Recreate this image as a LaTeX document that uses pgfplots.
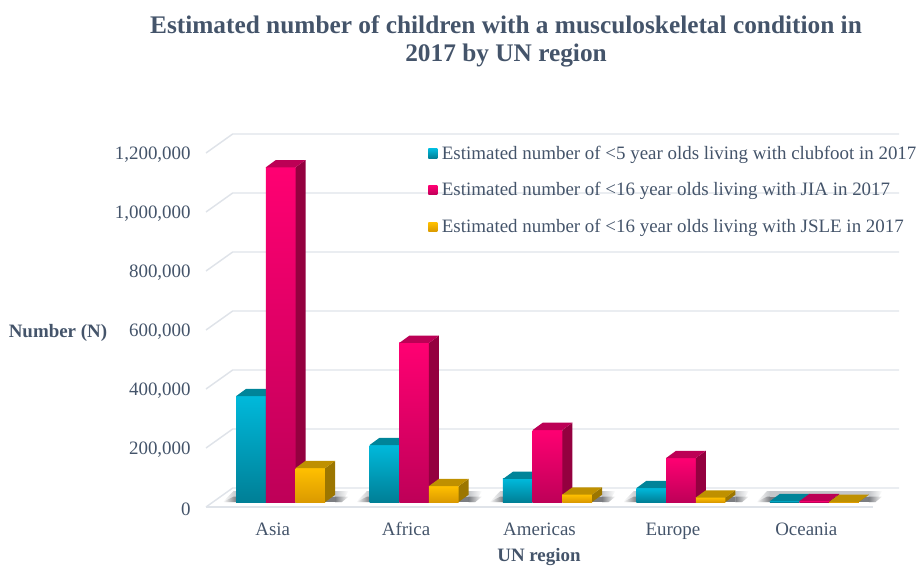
\documentclass[border=0pt]{standalone}
\usepackage{fontspec}
\setmainfont{Liberation Serif}
\usepackage{pgfplots}
\pgfplotsset{compat=1.18}

\definecolor{slate}{HTML}{44546A}
\definecolor{gridc}{HTML}{DFE3E9}

% one reference pixel is 0.75pt
\definecolor{clubA}{HTML}{00B9DB}
\definecolor{clubB}{HTML}{007F96}
\definecolor{clubT}{HTML}{008499}
\definecolor{clubS}{HTML}{006A7C}
\definecolor{jiaA}{HTML}{FF0072}
\definecolor{jiaB}{HTML}{BE0058}
\definecolor{jiaT}{HTML}{BC0055}
\definecolor{jiaS}{HTML}{94003F}
\definecolor{jsleA}{HTML}{FFC000}
\definecolor{jsleB}{HTML}{DB9A00}
\definecolor{jsleT}{HTML}{BF9000}
\definecolor{jsleS}{HTML}{9C7600}
\definecolor{shadL}{HTML}{C4C6C9}
\definecolor{shadD}{HTML}{7C7E82}

% #1 category, #2 slot (0,1,2), #3 value, #4 colour prefix
\newcommand{\tdbar}[4]{%
  \pgfmathsetmacro{\xa}{#1-0.3339+#2*0.2226}%
  \pgfmathsetmacro{\xb}{\xa+0.2226}%
  \pgfmathsetmacro{\xc}{\xa+0.075}%
  \pgfmathsetmacro{\xd}{\xb+0.075}%
  \edef\yt{\the\numexpr#3+24700\relax}%
  \addplot[forget plot,draw=none,shift={(6pt,3.75pt)},top color=#4A,bottom color=#4B]
    coordinates {(\xa,0) (\xb,0) (\xb,#3) (\xa,#3)} --cycle;
  \addplot[forget plot,draw=none,shift={(6pt,3.75pt)},fill=#4S]
    coordinates {(\xb,0) (\xd,24700) (\xd,\yt) (\xb,#3)} --cycle;
  \addplot[forget plot,draw=none,shift={(6pt,3.75pt)},fill=#4T]
    coordinates {(\xa,#3) (\xb,#3) (\xd,\yt) (\xc,\yt)} --cycle;
}
% soft shadow on the floor under one group: #1 category, #2 height, #3 colour
\newcommand{\tdshadow}[3]{%
  \pgfmathsetmacro{\sa}{#1-0.3339-0.10}%
  \pgfmathsetmacro{\sb}{#1-0.3339}%
  \pgfmathsetmacro{\sc}{#1+0.3339+0.075}%
  \pgfmathsetmacro{\sd}{\sc+0.05}%
  \pgfmathsetmacro{\se}{\sc+0.10}%
  \pgfmathsetmacro{\sf}{\sa+0.08}%
  \addplot[forget plot,draw=none,shift={(6pt,3.75pt)},left color=white,right color=#3]
    coordinates {(\sa,0) (\sb,0) (\sb,#2) (\sf,#2)} --cycle;
  \addplot[forget plot,draw=none,shift={(6pt,3.75pt)},fill=#3]
    coordinates {(\sb,0) (\sc,0) (\sc,#2) (\sb,#2)} --cycle;
  \addplot[forget plot,draw=none,shift={(6pt,3.75pt)},left color=#3,right color=white]
    coordinates {(\sc,0) (\sd,0) (\se,#2) (\sc,#2)} --cycle;
}
% wall gridline: front point to back point, then along the back wall
\newcommand{\wall}[2]{%
  \addplot[forget plot,gridc,line width=1.1pt] coordinates {(-0.5,#1) (-0.3,#2) (4.695,#2)};
}

\begin{document}
\begin{tikzpicture}
  \useasboundingbox (-154.5pt,-43.5pt) rectangle (534.75pt,380.25pt);
  \begin{axis}[
    scale only axis,
    width=519.75pt,
    height=279.75pt,
    xmin=-0.5, xmax=4.695,
    ymin=0, ymax=1264407,
    clip=false,
    axis line style={draw=none},
    tick style={draw=none},
    xtick={0,1,2,3,4},
    xticklabels={Asia,Africa,Americas,Europe,Oceania},
    ytick={0,200000,400000,600000,800000,1000000,1200000},
    scaled y ticks=false,
    yticklabel style={/pgf/number format/fixed,/pgf/number format/1000 sep={,},/pgf/number format/assume math mode=true,yshift=-1.5pt},
    xticklabel style={text height=10pt,text depth=3pt},
    tick label style={font=\fontsize{14.2}{16}\selectfont,text=slate},
    yticklabel shift=8pt,
    xticklabel shift=8pt,
    title={Estimated number of children with a musculoskeletal condition in\\2017 by UN region},
    title style={at={(axis description cs:0.4329,1.228)},anchor=center,align=center,
      font=\fontsize{19}{21}\selectfont\bfseries,text=slate},
    xlabel={UN region},
    ylabel={Number (N)},
    every axis x label/.style={at={(axis description cs:0.4805,-0.1335)},anchor=center,
      font=\fontsize{14.2}{16}\selectfont\bfseries,text=slate},
    every axis y label/.style={at={(axis description cs:-0.2136,0.4664)},anchor=center,
      font=\fontsize{14.2}{16}\selectfont\bfseries,text=slate},
    legend style={at={(axis description cs:0.32,0.969)},anchor=north west,draw=none,fill=none,
      inner sep=0pt,row sep=16pt,font=\fontsize{14.2}{16}\selectfont,text=slate,
      nodes={inner sep=0pt}},
    legend cell align=left,
    legend image code/.code={\path[#1,draw=none] (0pt,-3.4pt) rectangle (6.8pt,3.4pt);\path (0pt,0pt) (10pt,0pt);},
  ]
    % floor and walls
    \wall{0}{64407}
    \wall{200000}{264407}
    \wall{400000}{464407}
    \wall{600000}{664407}
    \wall{800000}{864407}
    \wall{1000000}{1064407}
    \wall{1200000}{1264407}
    \addplot[forget plot,gridc,line width=1.1pt] coordinates {(-0.5,0) (4.5,0)};

    \tdshadow{0}{37000}{shadL}
    \tdshadow{0}{18000}{shadD}
    \tdshadow{1}{37000}{shadL}
    \tdshadow{1}{18000}{shadD}
    \tdshadow{2}{37000}{shadL}
    \tdshadow{2}{18000}{shadD}
    \tdshadow{3}{37000}{shadL}
    \tdshadow{3}{18000}{shadD}
    \tdshadow{4}{37000}{shadL}
    \tdshadow{4}{18000}{shadD}

    % Asia
    \tdbar{0}{0}{359000}{club}
    \tdbar{0}{1}{1134600}{jia}
    \tdbar{0}{2}{115000}{jsle}
    % Africa
    \tdbar{1}{0}{193000}{club}
    \tdbar{1}{1}{539000}{jia}
    \tdbar{1}{2}{54000}{jsle}
    % Americas
    \tdbar{2}{0}{78000}{club}
    \tdbar{2}{1}{244000}{jia}
    \tdbar{2}{2}{25000}{jsle}
    % Europe
    \tdbar{3}{0}{47000}{club}
    \tdbar{3}{1}{149000}{jia}
    \tdbar{3}{2}{15000}{jsle}
    % Oceania
    \tdbar{4}{0}{2500}{club}
    \tdbar{4}{1}{3000}{jia}
    \tdbar{4}{2}{500}{jsle}

    \addlegendimage{top color=clubA,bottom color=clubB}
    \addlegendentry{Estimated number of <5 year olds living with clubfoot in 2017}
    \addlegendimage{top color=jiaA,bottom color=jiaB}
    \addlegendentry{Estimated number of <16 year olds living with JIA in 2017}
    \addlegendimage{top color=jsleA,bottom color=jsleB}
    \addlegendentry{Estimated number of <16 year olds living with JSLE in 2017}
  \end{axis}
\end{tikzpicture}
\end{document}
